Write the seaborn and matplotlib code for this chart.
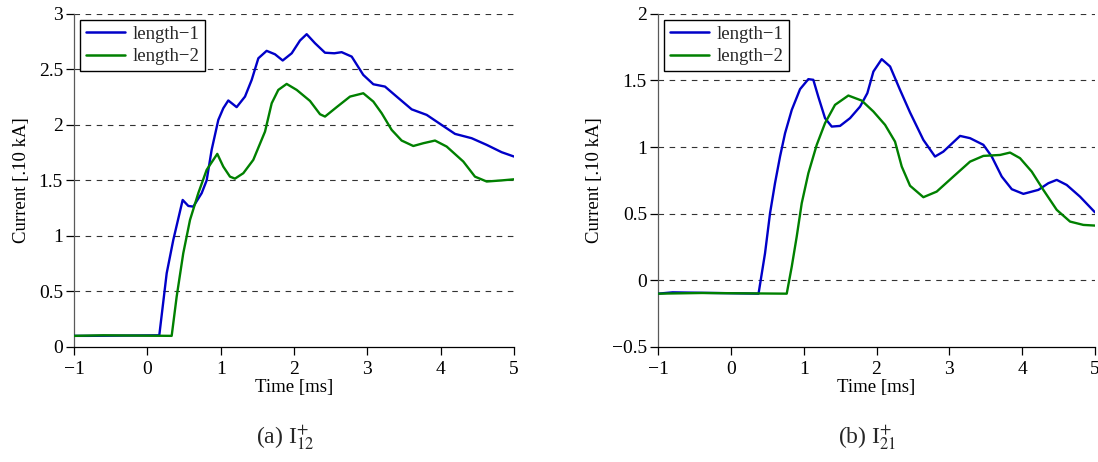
import numpy as np
import pandas as pd
import matplotlib
matplotlib.use("Agg")
import matplotlib.pyplot as plt
import seaborn as sns

# ---- data ----
t_a1 = [-1, -0.8, 0.163, 0.264, 0.354, 0.482, 0.559, 0.627, 0.741, 0.809, 0.877, 0.968, 1.036, 1.104,
        1.218, 1.332, 1.423, 1.514, 1.627, 1.741, 1.846, 1.969, 2.082, 2.173, 2.286, 2.423, 2.55, 2.65,
        2.787, 2.945, 3.082, 3.241, 3.40, 3.605, 3.81, 3.99, 4.196, 4.423, 4.628, 4.832, 5.0]
v_a1 = [0.1, 0.1, 0.105, 0.664, 0.964, 1.324, 1.27, 1.264, 1.385, 1.50, 1.775, 2.045, 2.15, 2.22,
        2.16, 2.255, 2.405, 2.60, 2.667, 2.636, 2.58, 2.645, 2.76, 2.817, 2.736, 2.65, 2.645, 2.655,
        2.615, 2.45, 2.366, 2.345, 2.255, 2.14, 2.09, 2.01, 1.919, 1.88, 1.82, 1.754, 1.715]

t_a2 = [-1, -0.6, 0.332, 0.40, 0.49, 0.582, 0.695, 0.809, 0.954, 1.036, 1.127, 1.195, 1.309, 1.445,
        1.605, 1.696, 1.786, 1.90, 2.037, 2.218, 2.355, 2.423, 2.582, 2.764, 2.945, 3.082, 3.196,
        3.332, 3.468, 3.627, 3.764, 3.923, 4.082, 4.309, 4.468, 4.628, 4.832, 5.0]
v_a2 = [0.1, 0.105, 0.1, 0.453, 0.844, 1.144, 1.385, 1.595, 1.739, 1.624, 1.534, 1.516, 1.565, 1.685,
        1.94, 2.195, 2.315, 2.369, 2.315, 2.216, 2.096, 2.075, 2.16, 2.255, 2.285, 2.21, 2.105,
        1.955, 1.859, 1.81, 1.835, 1.859, 1.805, 1.67, 1.534, 1.49, 1.50, 1.51]

t_b1 = [-1, -0.8, 0.38, 0.469, 0.538, 0.606, 0.675, 0.744, 0.836, 0.95, 1.064, 1.132, 1.20, 1.293,
        1.385, 1.499, 1.636, 1.774, 1.874, 1.957, 2.071, 2.186, 2.323, 2.46, 2.643, 2.803, 2.917,
        3.147, 3.284, 3.467, 3.582, 3.719, 3.857, 4.016, 4.222, 4.359, 4.474, 4.611, 4.794, 5.0]
v_b1 = [-0.1, -0.09, -0.1, 0.203, 0.504, 0.729, 0.929, 1.104, 1.279, 1.435, 1.51, 1.505, 1.379, 1.217,
        1.154, 1.159, 1.217, 1.304, 1.405, 1.567, 1.66, 1.605, 1.429, 1.26, 1.054, 0.929, 0.966,
        1.084, 1.067, 1.017, 0.929, 0.779, 0.684, 0.649, 0.679, 0.729, 0.754, 0.716, 0.628, 0.51]

t_b2 = [-1, -0.4, 0.767, 0.836, 0.904, 0.973, 1.064, 1.179, 1.293, 1.43, 1.613, 1.797, 1.957, 2.117,
        2.254, 2.346, 2.46, 2.643, 2.826, 3.055, 3.284, 3.467, 3.696, 3.833, 3.97, 4.131, 4.29, 4.474,
        4.657, 4.84, 5.0]
v_b2 = [-0.1, -0.095, -0.1, 0.103, 0.328, 0.579, 0.804, 1.017, 1.18, 1.317, 1.387, 1.349, 1.267, 1.167,
        1.041, 0.854, 0.71, 0.624, 0.666, 0.779, 0.891, 0.934, 0.941, 0.959, 0.917, 0.816, 0.679, 0.529,
        0.441, 0.416, 0.411]

series_names = ["length\u22121", "length\u22122"]
captions = [r"(a) I$_{12}^{+}$", r"(b) I$_{21}^{+}$"]
xlabel = "Time [ms]"
ylabel = "Current [.10 kA]"

def frame(t1, v1, t2, v2):
    return pd.concat([
        pd.DataFrame({"t": t1, "v": v1, "s": series_names[0]}),
        pd.DataFrame({"t": t2, "v": v2, "s": series_names[1]}),
    ], ignore_index=True)

df_a = frame(t_a1, v_a1, t_a2, v_a2)
df_b = frame(t_b1, v_b1, t_b2, v_b2)

sns.set_theme(style="white")
plt.rcParams["font.family"] = ["Liberation Serif", "DejaVu Serif"]
plt.rcParams["mathtext.fontset"] = "stix"

palette = {series_names[0]: "#0000c8", series_names[1]: "#008000"}

fig = plt.figure(figsize=(10.98, 4.62), dpi=100)
ax_a = fig.add_axes([0.0674, 0.249, 0.4007, 0.721])
ax_b = fig.add_axes([0.5993, 0.249, 0.3980, 0.721])

configs = [
    (ax_a, df_a, (0, 3), [0, 0.5, 1, 1.5, 2, 2.5, 3], ["0", "0.5", "1", "1.5", "2", "2.5", "3"]),
    (ax_b, df_b, (-0.5, 2), [-0.5, 0, 0.5, 1, 1.5, 2], ["\u22120.5", "0", "0.5", "1", "1.5", "2"]),
]

for i, (ax, df, ylim, yt, ytl) in enumerate(configs):
    sns.lineplot(data=df, x="t", y="v", hue="s", palette=palette, ax=ax, lw=1.7,
                 sort=False, estimator=None, zorder=3)
    ax.set_xlim(-1, 5)
    ax.set_ylim(*ylim)
    ax.set_xticks([-1, 0, 1, 2, 3, 4, 5])
    ax.set_xticklabels(["\u22121", "0", "1", "2", "3", "4", "5"])
    ax.set_yticks(yt)
    ax.set_yticklabels(ytl)
    for y in yt[1:]:
        ax.axhline(y, color="0.2", lw=0.8, ls=(0, (5, 5)), zorder=1)
    for sp in ["top", "right"]:
        ax.spines[sp].set_visible(False)
    ax.spines["left"].set_color("0.35")
    ax.spines["bottom"].set_color("black")
    for sp in ["left", "bottom"]:
        ax.spines[sp].set_linewidth(0.9)
    ax.tick_params(axis="x", pad=4)
    ax.tick_params(axis="y", pad=2)
    ax.tick_params(axis="both", direction="out", length=6, width=0.9, colors="black",
                   labelsize=14, left=True, bottom=True)
    ax.set_xlabel(xlabel, fontsize=13.5, labelpad=1, color="black")
    ax.set_ylabel(ylabel, fontsize=13.5, labelpad=6, color="black")
    leg = ax.legend(loc="upper left", fontsize=13.5, frameon=True, fancybox=False,
                    borderpad=0.3, handlelength=2.1, handletextpad=0.4, labelspacing=0.3,
                    bbox_to_anchor=(0.014, 0.982), borderaxespad=0.0)
    leg.get_frame().set_edgecolor("black")
    leg.get_frame().set_linewidth(1.0)
    leg.get_frame().set_alpha(1)
    for ln in leg.get_lines():
        ln.set_linewidth(1.8)

fig.text(0.26, 0.054, captions[0], ha="center", va="center", fontsize=17)
fig.text(0.79, 0.054, captions[1], ha="center", va="center", fontsize=17)

fig.savefig("out.png", dpi=100)
